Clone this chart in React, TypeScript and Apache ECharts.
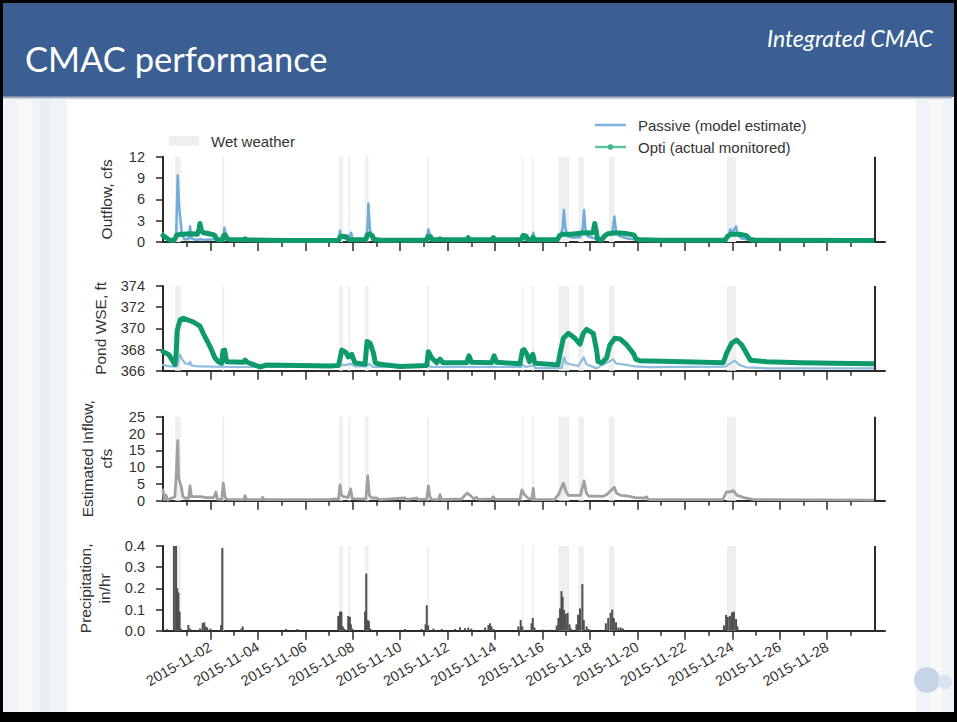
import React, { useEffect, useRef } from 'react';
import * as echarts from 'echarts';

// x values are days since 2015-10-31 00:00
const xTickLabels = ['2015-11-02','2015-11-04','2015-11-06','2015-11-08','2015-11-10','2015-11-12','2015-11-14','2015-11-16','2015-11-18','2015-11-20','2015-11-22','2015-11-24','2015-11-26','2015-11-28'];
const minorTickDays = [1,3,5,7,9,11,13,15,17,19,21,23,25,27,29];
const endDay = 30;

const wetWeather: [number, number][] = [[0.51,0.75],[2.5,2.58],[7.43,7.58],[7.81,7.9],[8.52,8.67],[11.12,11.2],[15.12,15.19],[15.57,15.64],[16.68,17.12],[17.51,17.74],[18.8,19.03],[23.78,24.16]];

const outflowPassive: [number, number][] = [[0,1.2],[0.15,0.6],[0.3,0.3],[0.5,0.3],[0.56,1.5],[0.62,9.4],[0.68,5.0],[0.74,3.0],[0.8,1.0],[0.9,0.4],[1.08,0.4],[1.14,2.2],[1.2,0.5],[1.4,0.3],[1.56,0.4],[1.8,0.3],[2.2,0.4],[2.24,1.0],[2.3,0.4],[2.52,0.4],[2.59,2.0],[2.68,0.6],[2.8,0.3],[3.46,0.35],[5,0.25],[7.0,0.25],[7.4,0.3],[7.46,1.6],[7.55,0.6],[7.8,0.4],[7.93,1.3],[8.0,0.4],[8.55,0.4],[8.62,2.0],[8.66,5.4],[8.72,2.0],[8.8,0.4],[9.2,0.25],[11.1,0.3],[11.19,1.8],[11.3,0.5],[11.6,0.3],[12.87,0.4],[13.93,0.4],[15.1,0.3],[15.15,1.0],[15.25,0.4],[15.55,0.4],[15.61,1.3],[15.7,0.3],[16.6,0.3],[16.75,0.8],[16.85,2.0],[16.9,4.5],[16.96,2.0],[17.05,0.8],[17.3,0.6],[17.6,0.7],[17.7,2.0],[17.75,4.5],[17.8,2.0],[17.9,0.8],[18.2,0.5],[18.6,0.6],[18.95,1.5],[19.03,3.6],[19.1,1.5],[19.25,0.8],[19.6,0.5],[20.0,0.3],[23.7,0.3],[23.85,1.0],[23.92,1.8],[24.0,1.2],[24.1,1.9],[24.16,2.2],[24.22,1.0],[24.4,0.5],[24.7,0.3],[29.95,0.2]];

const outflowOpti: [number, number][] = [[0,0.9],[0.1,0.7],[0.25,0.3],[0.45,0.2],[0.53,0.6],[0.58,1.0],[0.8,1.1],[1.2,1.15],[1.45,1.1],[1.52,1.8],[1.56,2.6],[1.62,1.6],[1.7,1.3],[1.9,1.2],[2.15,1.0],[2.25,0.5],[2.32,0.3],[2.5,0.3],[2.56,0.9],[2.62,1.0],[2.72,0.4],[2.9,0.3],[3.4,0.3],[3.46,0.45],[3.55,0.3],[5,0.2],[7.0,0.2],[7.4,0.25],[7.48,0.75],[7.6,0.8],[7.75,0.7],[7.82,0.35],[8.0,0.3],[8.55,0.3],[8.6,0.9],[8.7,1.15],[8.82,0.9],[8.9,0.35],[9.2,0.25],[11.1,0.25],[11.17,0.75],[11.28,0.75],[11.35,0.3],[11.62,0.3],[11.68,0.45],[11.75,0.3],[12.8,0.3],[12.87,0.6],[12.95,0.3],[13.85,0.3],[13.93,0.6],[14.0,0.3],[15.1,0.3],[15.18,0.9],[15.3,0.85],[15.38,0.35],[15.55,0.35],[15.6,0.65],[15.66,0.3],[16.62,0.3],[16.72,0.9],[16.85,1.1],[17.2,1.1],[17.5,1.2],[17.75,1.3],[18.08,1.25],[18.15,1.6],[18.2,2.6],[18.26,1.6],[18.32,0.4],[18.5,0.3],[18.6,0.8],[18.75,1.15],[19.1,1.3],[19.5,1.2],[19.85,1.0],[19.95,0.45],[20.1,0.3],[21,0.25],[23.7,0.25],[23.8,0.8],[23.95,1.1],[24.3,1.1],[24.6,0.9],[24.75,0.35],[25,0.25],[29.95,0.2]];

const pondPassive: [number, number][] = [[0,366.55],[0.3,366.4],[0.6,366.4],[0.72,367.55],[0.8,367.1],[0.93,366.7],[1.1,366.6],[1.14,366.85],[1.2,366.5],[1.5,366.4],[3,366.35],[7.3,366.35],[7.46,366.7],[7.6,366.5],[7.93,366.65],[8.1,366.4],[8.55,366.4],[8.7,366.65],[8.85,366.35],[11.1,366.35],[11.19,366.5],[11.3,366.35],[15.1,366.35],[15.17,366.55],[15.3,366.35],[15.61,366.5],[15.7,366.25],[16.8,366.25],[16.91,367.26],[17.0,366.7],[17.5,366.44],[17.74,367.26],[17.85,366.6],[18.28,366.22],[18.4,366.4],[18.98,367.07],[19.1,366.7],[19.55,366.55],[19.9,366.4],[20.5,366.33],[23.7,366.38],[24.1,366.95],[24.3,366.55],[24.6,366.32],[25.5,366.22],[29.95,366.22]];

const pondOpti: [number, number][] = [[0,367.8],[0.25,367.5],[0.5,366.6],[0.55,367.5],[0.6,369.8],[0.72,370.8],[0.86,370.95],[1.28,370.6],[1.56,370.2],[1.7,369.5],[1.98,368.3],[2.19,367.2],[2.33,366.85],[2.47,366.7],[2.53,367.9],[2.6,367.95],[2.68,366.85],[3.4,366.8],[3.46,367.0],[3.55,366.8],[4.09,366.35],[4.38,366.55],[7.04,366.45],[7.4,366.5],[7.54,367.95],[7.72,367.7],[7.82,367.3],[7.96,367.55],[8.09,366.75],[8.52,366.6],[8.6,368.75],[8.73,368.6],[8.87,367.7],[8.95,366.75],[9.15,366.6],[9.99,366.4],[11.12,366.5],[11.19,367.8],[11.33,367.2],[11.54,366.75],[11.68,367.1],[11.8,366.75],[12.8,366.75],[12.9,367.4],[13.0,366.8],[13.85,366.75],[13.96,367.4],[14.06,366.8],[15.05,366.65],[15.15,367.9],[15.22,368.0],[15.33,367.6],[15.45,366.85],[15.59,367.55],[15.68,366.7],[16.65,366.55],[16.74,367.64],[16.88,369.06],[17.09,369.53],[17.37,369.06],[17.58,368.52],[17.72,369.53],[17.86,369.9],[18.14,369.53],[18.28,367.95],[18.34,366.85],[18.5,366.75],[18.7,367.2],[18.84,368.43],[19.05,369.06],[19.27,369.0],[19.55,368.43],[19.83,367.64],[19.94,367.07],[20.11,366.95],[21.94,366.85],[23.62,366.75],[23.76,367.64],[23.97,368.58],[24.18,368.9],[24.4,368.43],[24.6,367.64],[24.77,366.98],[25.44,366.85],[26.85,366.75],[28.26,366.7],[29.95,366.65]];

const inflow: [number, number][] = [[0,3.2],[0.05,0.3],[0.12,1.7],[0.2,0.2],[0.5,1.2],[0.55,6.7],[0.62,17.9],[0.66,6.7],[0.77,4.2],[0.84,1.2],[0.95,0.7],[1.08,0.8],[1.14,4.4],[1.2,1.2],[1.6,1.2],[1.8,0.9],[2.15,0.9],[2.23,2.6],[2.3,0.4],[2.48,0.4],[2.54,5.2],[2.62,1.0],[2.7,0.4],[3.4,0.3],[3.46,1.5],[3.52,0.3],[4.15,0.3],[4.2,1.0],[4.26,0.3],[7.0,0.3],[7.2,0.5],[7.4,0.4],[7.46,4.7],[7.52,1.8],[7.6,1.2],[7.8,1.0],[7.91,3.5],[7.98,0.6],[8.55,0.5],[8.63,7.4],[8.7,1.6],[8.8,0.8],[9.0,0.8],[9.15,0.3],[10.2,0.8],[10.25,0.3],[10.69,0.8],[10.75,0.3],[11.12,0.5],[11.19,4.4],[11.25,1.2],[11.32,0.4],[11.62,0.3],[11.68,1.8],[11.74,0.3],[12.6,0.5],[12.66,1.1],[12.83,2.3],[12.95,1.6],[13.1,0.6],[13.22,1.0],[13.3,0.4],[13.85,0.5],[13.93,1.2],[14.0,0.4],[15.05,0.4],[15.13,3.2],[15.25,1.7],[15.4,0.7],[15.55,0.4],[15.61,3.7],[15.66,0.3],[16.5,0.3],[16.67,1.8],[16.88,5.2],[17.0,2.6],[17.1,1.6],[17.6,1.6],[17.75,5.9],[17.85,2.2],[17.95,1.4],[18.55,1.3],[18.7,1.8],[19.03,4.0],[19.12,2.2],[19.3,1.6],[19.6,1.4],[19.9,0.9],[20.3,0.8],[20.39,1.2],[20.45,0.3],[23.6,0.3],[23.76,2.6],[23.9,2.6],[24.04,3.0],[24.2,1.6],[24.5,0.9],[24.9,0.3],[29.95,0.2]];

const precipitation: [number, number][] = [[0.16,0.007],[0.46,0.4],[0.55,0.4],[0.6,0.2],[0.65,0.18],[0.7,0.09],[0.75,0.01],[1.07,0.027],[1.15,0.01],[1.56,0.01],[1.67,0.036],[1.74,0.04],[1.8,0.02],[1.86,0.015],[2.0,0.01],[2.45,0.027],[2.5,0.39],[3.31,0.01],[3.36,0.02],[5.19,0.008],[5.66,0.008],[7.39,0.07],[7.46,0.09],[7.52,0.09],[7.58,0.02],[7.64,0.01],[7.81,0.07],[7.88,0.065],[7.92,0.03],[7.98,0.01],[8.52,0.09],[8.57,0.27],[8.63,0.05],[8.68,0.045],[8.74,0.01],[10.2,0.008],[10.9,0.008],[11.07,0.03],[11.12,0.12],[11.18,0.025],[11.4,0.01],[11.75,0.008],[12.31,0.008],[12.52,0.016],[12.73,0.012],[12.87,0.015],[13.0,0.01],[13.58,0.015],[13.72,0.027],[13.79,0.035],[13.85,0.02],[13.95,0.008],[14.98,0.02],[15.08,0.05],[15.15,0.02],[15.54,0.035],[15.59,0.06],[15.66,0.015],[16.0,0.005],[16.3,0.005],[16.6,0.025],[16.67,0.06],[16.74,0.105],[16.8,0.187],[16.85,0.16],[16.91,0.098],[16.98,0.08],[17.06,0.084],[17.14,0.03],[17.2,0.01],[17.43,0.03],[17.5,0.075],[17.58,0.105],[17.68,0.22],[17.74,0.05],[17.86,0.02],[17.95,0.008],[18.67,0.035],[18.77,0.06],[18.87,0.085],[18.94,0.1],[19.01,0.06],[19.1,0.04],[19.2,0.015],[19.3,0.015],[19.4,0.01],[23.65,0.025],[23.74,0.075],[23.81,0.065],[23.9,0.07],[23.99,0.087],[24.07,0.09],[24.16,0.055],[24.22,0.02]];

const yNames = ['Outflow, cfs', 'Pond WSE, ft', 'Estimated Inflow,\ncfs', 'Precipitation,\nin/hr'];
const yRanges: [number, number, number][] = [[0, 12, 3], [366, 374, 2], [0, 25, 5], [0, 0.4, 0.1]];
const legendLabels = ['Wet weather', 'Passive (model estimate)', 'Opti (actual monitored)'];

const FONT = '"Liberation Sans", Arial, sans-serif';
const AX = '#2b2b2b';
const TXT = '#333333';
const GRID_TOPS = [156.7, 286, 416.7, 546];
const GRID_H = [85.3, 84.7, 84, 84.7];
const GRID_LEFT = 163;
const GRID_W = 722;
const XMAX = 30.44;

const dayOf = (label: string) => {
  const [y, m, d] = label.split('-').map(Number);
  return Math.round((new Date(y, m - 1, d).getTime() - new Date(2015, 9, 31).getTime()) / 86400000);
};

export default function App() {
  const ref = useRef<HTMLDivElement>(null);
  useEffect(() => {
    document.body.style.margin = '0';
    const chart = echarts.init(ref.current!, null, { renderer: 'svg' });
    const majorDays = xTickLabels.map(dayOf);
    const labelByDay: Record<number, string> = {};
    xTickLabels.forEach((l) => { labelByDay[dayOf(l)] = l; });

    const grids = GRID_TOPS.map((t, i) => ({ left: GRID_LEFT, top: t, width: GRID_W, height: GRID_H[i], containLabel: false }));
    const majorX = GRID_TOPS.map((_, i) => ({
      type: 'value', gridIndex: i, min: 0, max: XMAX, interval: 2, position: 'bottom',
      axisLine: { show: true, onZero: false, lineStyle: { color: AX, width: 2 } },
      axisTick: { show: true, length: 9, customValues: majorDays, lineStyle: { color: AX, width: 1.5 } },
      axisLabel: i === 3 ? {
        show: true, customValues: majorDays, rotate: 30, margin: 15, fontSize: 14.5, color: TXT, fontFamily: FONT,
        formatter: (v: number) => labelByDay[Math.round(v)] || '',
      } : { show: false },
      splitLine: { show: false },
    }));
    const minorX = GRID_TOPS.map((_, i) => ({
      type: 'value', gridIndex: i, min: 0, max: XMAX, interval: 1, position: 'bottom',
      axisLine: { show: false, onZero: false },
      axisTick: { show: true, length: 5, customValues: minorTickDays, lineStyle: { color: AX, width: 1.5 } },
      axisLabel: { show: false },
      splitLine: { show: false },
    }));
    const yAxes = yRanges.map(([mn, mx, iv], i) => ({
      type: 'value', gridIndex: i, min: mn, max: mx, interval: iv,
      axisLine: { show: true, lineStyle: { color: AX, width: 2 } },
      axisTick: { show: true, length: 7, lineStyle: { color: AX, width: 1.5 } },
      axisLabel: { margin: 18, fontSize: 14.5, color: TXT, fontFamily: FONT, formatter: (v: number) => (i === 3 ? v.toFixed(1) : String(v)) },
      splitLine: { show: false },
      name: yNames[i], nameLocation: 'middle', nameRotate: 90, nameGap: 47,
      nameTextStyle: { fontSize: 15.5, color: TXT, fontFamily: FONT, lineHeight: 19 },
    }));

    const bgSeries = GRID_TOPS.map((_, i) => ({
      type: 'line', xAxisIndex: i, yAxisIndex: i, data: [], z: 1, silent: true,
      markArea: { silent: true, itemStyle: { color: '#efefef' }, data: wetWeather.map(([a, b]) => [{ xAxis: a }, { xAxis: b }]) },
      markLine: { silent: true, symbol: 'none', label: { show: false }, lineStyle: { color: AX, width: 2, type: 'solid' }, data: [{ xAxis: endDay }] },
    }));
    const line = (i: number, data: [number, number][], color: string, width: number, z: number, opacity = 1) => ({
      type: 'line', xAxisIndex: i, yAxisIndex: i, data, showSymbol: false, symbol: 'none', silent: true, z,
      lineStyle: { color, width, opacity, cap: 'round', join: 'round' },
    });

    const option: any = {
      animation: false,
      backgroundColor: '#000',
      grid: grids,
      xAxis: [...majorX, ...minorX],
      yAxis: yAxes,
      series: [
        ...bgSeries,
        line(0, outflowPassive, '#72acd8', 2.5, 3),
        line(0, outflowOpti, '#0f9a6c', 5, 4),
        line(1, pondPassive, '#8ebde0', 2.2, 3),
        line(1, pondOpti, '#0f9a6c', 5, 4),
        line(2, inflow, '#a0a0a0', 2.8, 3),
        { type: 'bar', xAxisIndex: 3, yAxisIndex: 3, data: precipitation, barWidth: 2, silent: true, z: 3, itemStyle: { color: '#4f4f4f' } },
      ],
      graphic: { elements: [
        { type: 'rect', z: -20, silent: true, shape: { x: 3, y: 3, width: 951, height: 709 }, style: { fill: '#f0f3f7' } },
        { type: 'rect', z: -19, silent: true, shape: { x: 18, y: 100, width: 14, height: 612 }, style: { fill: '#f8f9fb' } },
        { type: 'rect', z: -19, silent: true, shape: { x: 40, y: 100, width: 10, height: 612 }, style: { fill: '#e9edf3' } },
        { type: 'rect', z: -19, silent: true, shape: { x: 930, y: 100, width: 12, height: 612 }, style: { fill: '#f8f9fb' } },
        { type: 'rect', z: -18, silent: true, shape: { x: 67, y: 100, width: 849, height: 612 }, style: { fill: '#ffffff' } },
        { type: 'rect', z: -17, silent: true, shape: { x: 3, y: 3, width: 951, height: 94 }, style: { fill: '#3b5f92' } },
        { type: 'line', z: -16, silent: true, shape: { x1: 3, y1: 97.5, x2: 952, y2: 97.5 }, style: { stroke: '#a7b1c2', lineWidth: 2 } },
        { type: 'circle', z: -16, silent: true, shape: { cx: 927, cy: 680, r: 13 }, style: { fill: '#c7d4e5' } },
        { type: 'circle', z: -16, silent: true, shape: { cx: 945, cy: 682, r: 7 }, style: { fill: '#d9e2ee' } },
        { type: 'text', z: 10, silent: true, x: 25, y: 58, style: { text: 'CMAC performance', fill: '#ffffff', font: '34.5px Lato, "Open Sans", sans-serif', textVerticalAlign: 'middle' } },
        { type: 'text', z: 10, silent: true, x: 933, y: 38, style: { text: 'Integrated CMAC', fill: '#ffffff', font: 'italic 23px Lato, "Open Sans", sans-serif', textAlign: 'right', textVerticalAlign: 'middle' } },
        { type: 'rect', z: 10, silent: true, shape: { x: 169, y: 136, width: 30, height: 10 }, style: { fill: '#efefef' } },
        { type: 'text', z: 10, silent: true, x: 211, y: 141, style: { text: legendLabels[0], fill: TXT, font: `15px ${FONT}`, textVerticalAlign: 'middle' } },
        { type: 'line', z: 10, silent: true, shape: { x1: 595, y1: 125, x2: 626, y2: 125 }, style: { stroke: '#7fb5dc', lineWidth: 2.5 } },
        { type: 'text', z: 10, silent: true, x: 638, y: 125, style: { text: legendLabels[1], fill: TXT, font: `15px ${FONT}`, textVerticalAlign: 'middle' } },
        { type: 'line', z: 10, silent: true, shape: { x1: 595, y1: 147, x2: 626, y2: 147 }, style: { stroke: '#5fc6a4', lineWidth: 2.5 } },
        { type: 'circle', z: 10, silent: true, shape: { cx: 610.5, cy: 147, r: 2.8 }, style: { fill: '#3fb58c' } },
        { type: 'text', z: 10, silent: true, x: 638, y: 147, style: { text: legendLabels[2], fill: TXT, font: `15px ${FONT}`, textVerticalAlign: 'middle' } },
      ] },
    };
    chart.setOption(option);
    return () => chart.dispose();
  }, []);
  return <div ref={ref} style={{ width: 957, height: 722 }} />;
}
